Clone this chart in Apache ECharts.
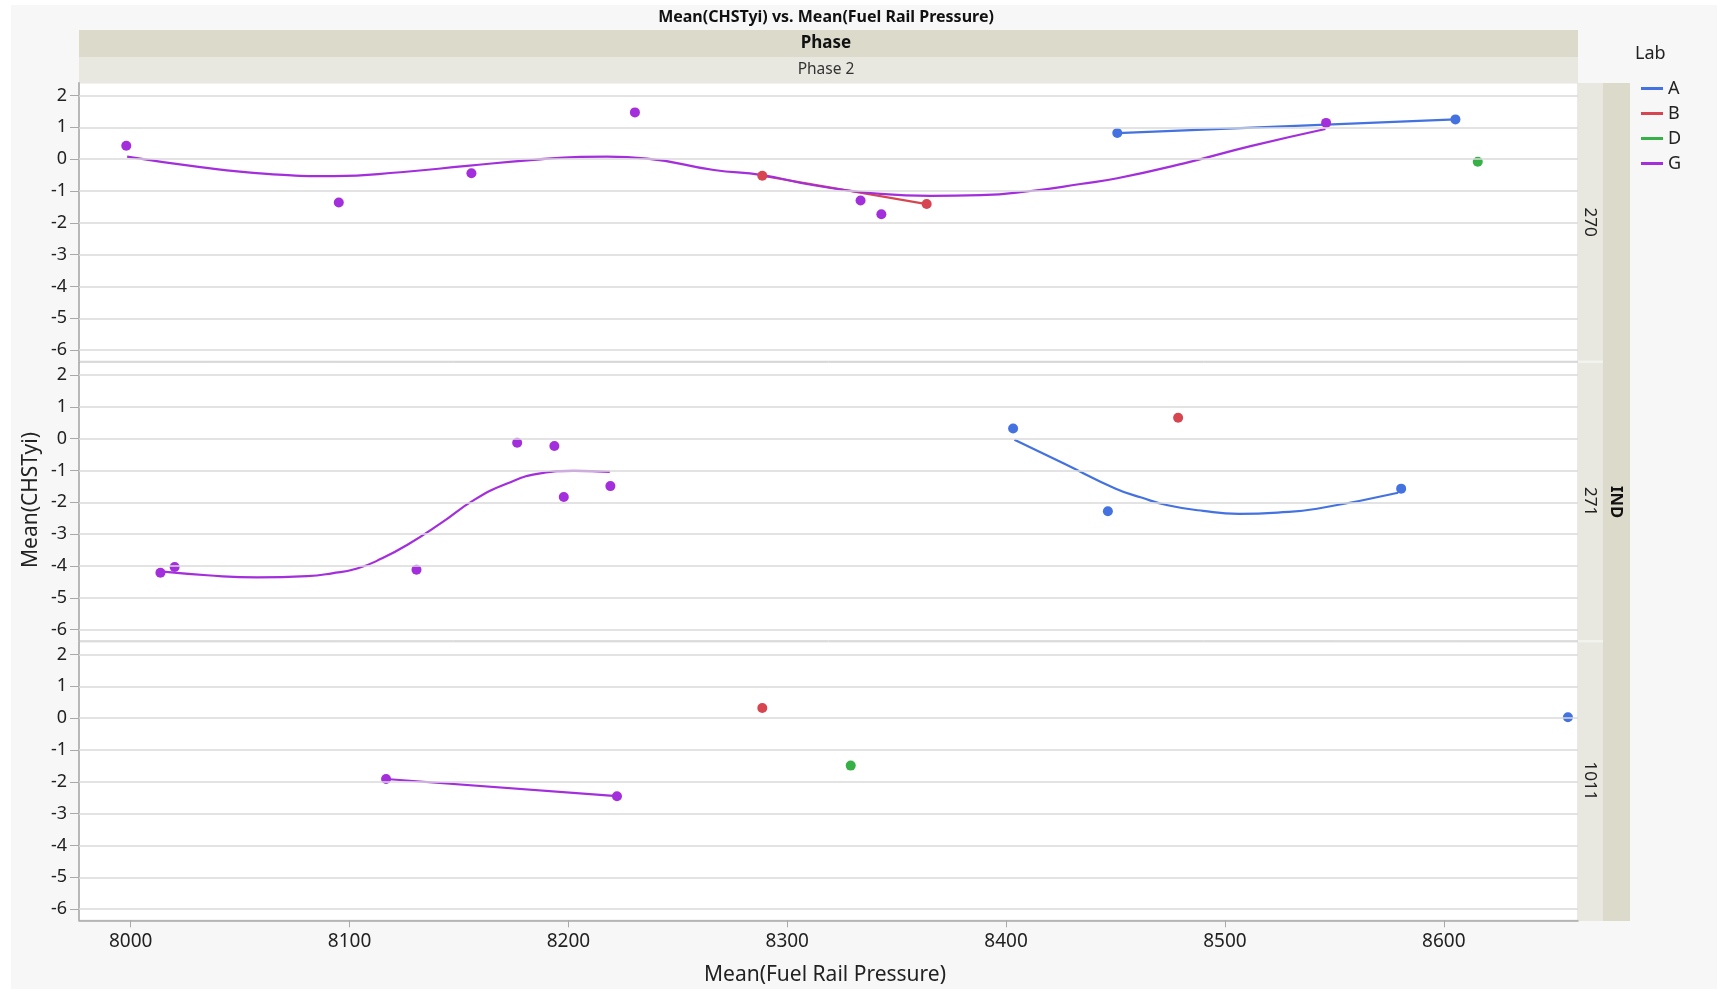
<!DOCTYPE html>
<html><head><meta charset="utf-8">
<script src="https://cdn.jsdelivr.net/npm/echarts@6/dist/echarts.min.js"></script>
<style>
html,body{margin:0;padding:0;background:#fff;}
#bg{position:absolute;left:11px;top:5px;width:1706px;height:984px;background:#f7f7f7;}
#chart{position:absolute;left:0;top:0;width:1717px;height:989px;}
</style>
</head><body><div id="bg"></div><div id="chart"></div>
<script>
// ---- data ----
const panels = ['270', '271', '1011'];
const labs = ['A', 'B', 'D', 'G'];
const labColors = ['#4472e0', '#d64550', '#38b048', '#a32edb'];
const xTicks = [8000, 8100, 8200, 8300, 8400, 8500, 8600];
const yTicks = [-6, -5, -4, -3, -2, -1, 0, 1, 2];
const xRange = [7976.4, 8661.3];
const yRange = [-6.35, 2.4];

// panel 270
const pts270_A = [[8450.8, 0.82], [8605.3, 1.25]];
const pts270_B = [[8288.6, -0.52], [8363.7, -1.41]];
const pts270_D = [[8615.5, -0.08]];
const pts270_G = [[7998, 0.42], [8095.1, -1.36], [8155.7, -0.44], [8230.4, 1.47], [8333.5, -1.30], [8343, -1.73], [8546.2, 1.14]];
const fit270_A = [[8450.8, 0.82], [8605.3, 1.25]];
const fit270_B = [[8288.6, -0.52], [8363.7, -1.41]];
const fit270_G = [[7998.4, 0.08], [8031.9, -0.25], [8062.3, -0.46], [8092.8, -0.53], [8123.3, -0.41], [8153.7, -0.21], [8184.2, -0.02], [8205.5, 0.07], [8217.7, 0.08], [8236, 0.02], [8266.5, -0.34], [8288.6, -0.50], [8312.2, -0.82], [8342.6, -1.09], [8365.5, -1.15], [8388.3, -1.13], [8411.2, -1.0], [8434, -0.78], [8450.8, -0.6], [8481.3, -0.13], [8511.7, 0.41], [8545.9, 0.95]];

// panel 271
const pts271_A = [[8403.2, 0.32], [8446.5, -2.28], [8580.5, -1.57]];
const pts271_B = [[8478.6, 0.66]];
const pts271_G = [[8013.6, -4.21], [8020.1, -4.03], [8130.6, -4.12], [8176.6, -0.13], [8193.6, -0.23], [8197.9, -1.83], [8219.2, -1.49]];
const fit271_A = [[8403.8, -0.03], [8426.4, -0.78], [8450.1, -1.57], [8461.8, -1.85], [8473.8, -2.09], [8490, -2.27], [8506.4, -2.36], [8524.1, -2.32], [8542, -2.2], [8579.1, -1.7]];
const fit271_G = [[8013.6, -4.17], [8034.9, -4.29], [8057.8, -4.36], [8080.6, -4.32], [8092, -4.23], [8103.5, -4.08], [8114.9, -3.76], [8126.3, -3.34], [8141.6, -2.66], [8156.8, -1.93], [8172, -1.41], [8187.2, -1.09], [8202.5, -1.01], [8218.9, -1.04]];

// panel 1011
const pts1011_A = [[8656.7, 0.03]];
const pts1011_B = [[8288.6, 0.32]];
const pts1011_D = [[8329, -1.49]];
const pts1011_G = [[8116.7, -1.91], [8222.2, -2.45]];
const fit1011_G = [[8116.7, -1.91], [8222.2, -2.45]];

// tables built from the arrays above
const pointTable = {
  '270': { A: pts270_A, B: pts270_B, D: pts270_D, G: pts270_G },
  '271': { A: pts271_A, B: pts271_B, G: pts271_G },
  '1011': { A: pts1011_A, B: pts1011_B, D: pts1011_D, G: pts1011_G }
};
const fitTable = {
  '270': { A: fit270_A, B: fit270_B, G: fit270_G },
  '271': { A: fit271_A, G: fit271_G },
  '1011': { G: fit1011_G }
};

// ---- layout ----
const FONT = 'Noto Sans';
const gridLeft = 79, gridWidth = 1499, panelH = 278.5;
const panelTops = [82.8, 362.3, 641.8];
const TXT = '#222';

const grids = [], xAxes = [], yAxes = [], series = [];
panels.forEach((p, i) => {
  const last = i === panels.length - 1;
  grids.push({
    left: gridLeft, top: panelTops[i], width: gridWidth, height: panelH,
    containLabel: false, outerBoundsMode: 'none',
    show: true, backgroundColor: '#ffffff', borderColor: '#d2d2d2', borderWidth: 1
  });
  xAxes.push({
    type: 'value', gridIndex: i, min: xRange[0], max: xRange[1],
    axisLine: { show: last, onZero: false, lineStyle: { color: '#a9a9a9', width: 1.5 } },
    axisTick: { show: last, customValues: xTicks, length: 7, lineStyle: { color: '#a9a9a9' } },
    axisLabel: { show: last, customValues: xTicks, fontSize: 19, color: TXT, margin: 12, fontFamily: FONT,
      formatter: v => String(Math.round(v)) },
    splitLine: { show: false }
  });
  yAxes.push({
    type: 'value', gridIndex: i, min: yRange[0], max: yRange[1],
    axisLine: { show: true, onZero: false, lineStyle: { color: '#a9a9a9', width: 1.5 } },
    axisTick: { show: true, customValues: yTicks, length: 9, lineStyle: { color: '#a9a9a9' } },
    axisLabel: { customValues: yTicks, fontSize: 18, color: TXT, margin: 12, fontFamily: FONT },
    splitLine: { show: false }
  });
  // gridlines at the tick values
  series.push({
    type: 'scatter', xAxisIndex: i, yAxisIndex: i, data: [], z: 1, silent: true,
    markLine: {
      silent: true, symbol: ['none', 'none'], label: { show: false }, animation: false,
      lineStyle: { color: '#dadada', width: 1.5, type: 'solid' },
      emphasis: { disabled: true },
      data: yTicks.map(v => ({ yAxis: v }))
    }
  });
  labs.forEach((lab, j) => {
    const fit = fitTable[p][lab];
    if (fit) {
      series.push({
        name: lab, type: 'line', xAxisIndex: i, yAxisIndex: i, data: fit,
        smooth: fit.length > 2 ? 0.5 : false, showSymbol: false, symbol: 'none',
        lineStyle: { color: labColors[j], width: 2.2 }, itemStyle: { color: labColors[j] },
        z: 3, animation: false
      });
    }
    const pts = pointTable[p][lab];
    if (pts) {
      series.push({
        name: lab, type: 'scatter', xAxisIndex: i, yAxisIndex: i, data: pts,
        symbol: 'circle', symbolSize: 10, itemStyle: { color: labColors[j], opacity: 1 },
        z: 4, animation: false
      });
    }
  });
});

const graphic = [
  // header bands
  { type: 'rect', shape: { x: gridLeft, y: 30, width: gridWidth, height: 27 }, style: { fill: '#dcdacb' }, silent: true },
  { type: 'rect', shape: { x: gridLeft, y: 57, width: gridWidth, height: 26 }, style: { fill: '#e8e8e0' }, silent: true },
  { type: 'text', x: 826, y: 17, style: { text: 'Mean(CHSTyi) vs. Mean(Fuel Rail Pressure)', font: 'bold 16px "Noto Sans"', fill: '#111', align: 'center', verticalAlign: 'middle' } },
  { type: 'text', x: 826, y: 43, style: { text: 'Phase', font: 'bold 17px "Noto Sans"', fill: '#111', align: 'center', verticalAlign: 'middle' } },
  { type: 'text', x: 826, y: 69.5, style: { text: 'Phase 2', font: '15.5px "Noto Sans"', fill: '#333', align: 'center', verticalAlign: 'middle' } },
  // right strips
  { type: 'rect', shape: { x: 1578, y: 83, width: 25, height: 838 }, style: { fill: '#e8e8e0' }, silent: true },
  { type: 'rect', shape: { x: 1603, y: 83, width: 27, height: 838 }, style: { fill: '#dcdacb' }, silent: true },
  { type: 'rect', shape: { x: 1578, y: 360.5, width: 25, height: 2.5 }, style: { fill: '#f3f3ee' }, silent: true },
  { type: 'rect', shape: { x: 1578, y: 640, width: 25, height: 2.5 }, style: { fill: '#f3f3ee' }, silent: true },
  { type: 'text', x: 1616, y: 502, rotation: -Math.PI / 2, style: { text: 'IND', font: 'bold 16.5px "Noto Sans"', fill: '#111', align: 'center', verticalAlign: 'middle' } },
  // axis titles
  { type: 'text', x: 31, y: 500, rotation: Math.PI / 2, style: { text: 'Mean(CHSTyi)', font: '21px "Noto Sans"', fill: TXT, align: 'center', verticalAlign: 'middle' } },
  { type: 'text', x: 825, y: 975, style: { text: 'Mean(Fuel Rail Pressure)', font: '21px "Noto Sans"', fill: TXT, align: 'center', verticalAlign: 'middle' } },
  // legend title
  { type: 'text', x: 1635, y: 54, style: { text: 'Lab', font: '18px "Noto Sans"', fill: TXT, align: 'left', verticalAlign: 'middle' } }
];
panels.forEach((p, i) => {
  graphic.push({ type: 'text', x: 1590, y: panelTops[i] + panelH / 2, rotation: -Math.PI / 2,
    style: { text: p, font: '17px "Noto Sans"', fill: '#222', align: 'center', verticalAlign: 'middle' } });
});

const chart = echarts.init(document.getElementById('chart'), null, { renderer: 'canvas' });
chart.setOption({
  backgroundColor: 'transparent',
  animation: false,
  textStyle: { fontFamily: FONT },
  grid: grids, xAxis: xAxes, yAxis: yAxes, series: series,
  legend: {
    data: labs, orient: 'vertical', left: 1636, top: 73.5,
    icon: 'rect', itemWidth: 22, itemHeight: 3, itemGap: 5, itemTextGap: 8,
    selectedMode: false,
    textStyle: { fontSize: 18, color: TXT, lineHeight: 20, fontFamily: FONT }
  },
  graphic: graphic
});
</script>
</body></html>
